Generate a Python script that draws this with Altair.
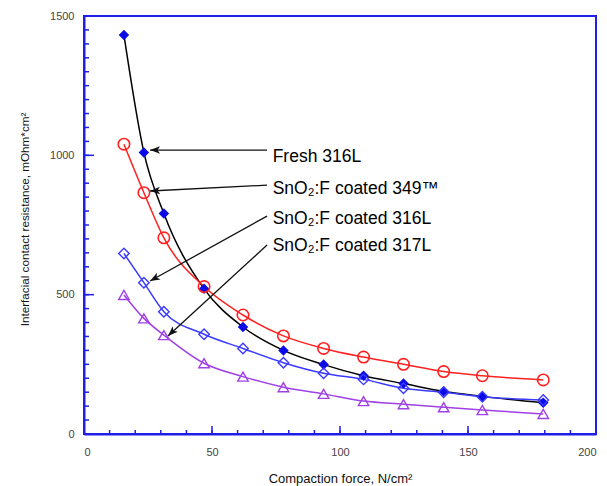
import altair as alt
import pandas as pd

# ---------------- data ----------------
force = [15.6, 23.4, 31.2, 46.9, 62.1, 77.9, 93.6, 109.2, 124.8, 140.5, 155.6, 179.4]
fresh_316L = [1432, 1010, 791, 521, 384, 300, 249, 209, 181, 153, 135, 112]
coated_349 = [1040, 866, 704, 529, 427, 352, 307, 276, 250, 224, 209, 194]
coated_316L = [648, 543, 439, 358, 307, 256, 218, 196, 164, 150, 134, 122]
coated_317L = [499, 415, 355, 254, 206, 168, 144, 118, 107, 96, 86, 72]

series_names = ["Fresh 316L", "SnO\u2082:F coated 349\u2122",
                "SnO\u2082:F coated 316L", "SnO\u2082:F coated 317L"]
series_values = [fresh_316L, coated_349, coated_316L, coated_317L]

x_major = [0, 50, 100, 150, 200]
x_minor = list(range(0, 201, 10))
y_major = [0, 500, 1000, 1500]
y_minor = list(range(0, 1501, 50))

# annotation labels and arrows (data units)
label_x = [73.7, 73.7, 73.7, 73.7]
label_y = [976, 861, 753, 657]
arrow_x0 = [71.5, 71.5, 71.5, 71.5]
arrow_y0 = [1019, 893, 782, 678]
arrow_x1 = [25.8, 25.8, 25.8, 32.8]
arrow_y1 = [1019, 872, 549, 352]
arrow_angle = [0, 357, 331, 317]

# ---------------- tables ----------------
rows = []
for name, vals in zip(series_names, series_values):
    for f, v in zip(force, vals):
        rows.append({"force": f, "value": v, "series": name})
df = pd.DataFrame(rows)

ann = pd.DataFrame({
    "label": series_names,
    "lx": label_x, "ly": label_y,
    "x0": arrow_x0, "y0": arrow_y0,
    "x1": arrow_x1, "y1": arrow_y1,
    "angle": arrow_angle,
})

W, H = 512, 418
BLUE = "#1f1fe8"
FONT = "Liberation Sans"
line_colors = ["#000000", "#ff2020", "#3a3aff", "#a040e6"]

xscale = alt.Scale(domain=[0, 200], nice=False, zero=False)
yscale = alt.Scale(domain=[0, 1500], nice=False, zero=False)

x_main = alt.X("force:Q", scale=xscale, axis=alt.Axis(
    values=x_major, ticks=False, grid=False, domainColor=BLUE, domainWidth=2,
    format="d",
    labelFont=FONT, labelFontSize=11, labelColor="#444", labelPadding=12,
    title="Compaction force, N/cm\u00b2", titleFont=FONT, titleFontSize=13,
    titleFontWeight="normal", titleColor="#111", titlePadding=15))
y_main = alt.Y("value:Q", scale=yscale, axis=alt.Axis(
    values=y_major, ticks=False, grid=False, domainColor=BLUE, domainWidth=2,
    format="d",
    labelFont=FONT, labelFontSize=11, labelColor="#444", labelPadding=10,
    title="Interfacial contact resistance, mOhm*cm\u00b2", titleFont=FONT,
    titleFontSize=11.7, titleFontWeight="normal", titleColor="#111",
    titlePadding=19, titleY=203))

lines = alt.Chart(df).mark_line(interpolate="monotone", strokeWidth=1.5).encode(
    x=x_main, y=y_main,
    color=alt.Color("series:N", scale=alt.Scale(domain=series_names, range=line_colors), legend=None),
    detail="series:N",
)

def X(field):
    return alt.X(field, scale=xscale, axis=None)

def Y(field):
    return alt.Y(field, scale=yscale, axis=None)

def pts(name, **kw):
    return alt.Chart(df).transform_filter(alt.datum.series == name).mark_point(**kw).encode(
        x=X("force:Q"), y=Y("value:Q"))

p_fresh = pts(series_names[0], shape="diamond", filled=True, color="#0a0ae6", size=110, opacity=1)
p_349 = pts(series_names[1], shape="circle", filled=False, color="#ff2020", size=130, strokeWidth=1.6, opacity=1)
p_316 = pts(series_names[2], shape="diamond", filled=False, color="#3a3aff", size=110, strokeWidth=1.4, opacity=1)
p_317 = pts(series_names[3], shape="triangle-up", filled=False, color="#a040e6", size=110, strokeWidth=1.4, opacity=1)

arrows = alt.Chart(ann).mark_rule(color="#111", strokeWidth=1.3).encode(
    x=X("x0:Q"), y=Y("y0:Q"), x2="x1:Q", y2="y1:Q")

heads = alt.Chart(ann).mark_point(
    shape="M0,0 L1,-0.38 L0.75,0 L1,0.38 Z", filled=True, color="#111", size=400, opacity=1
).encode(
    x=X("x1:Q"), y=Y("y1:Q"), angle=alt.Angle("angle:Q", scale=None))

labels = alt.Chart(ann).mark_text(
    align="left", baseline="alphabetic", font=FONT, fontSize=17.5, color="#000"
).encode(
    x=X("lx:Q"), y=Y("ly:Q"), text="label:N")

# inward axis ticks (tick values through the scales)
def yticks(vals, length):
    return alt.Chart(pd.DataFrame({"v": vals})).mark_rule(color=BLUE, strokeWidth=1.5).encode(
        y=Y("v:Q"), x=alt.value(0), x2=alt.value(length))

def xticks(vals, length):
    return alt.Chart(pd.DataFrame({"v": vals})).mark_rule(color=BLUE, strokeWidth=1.5).encode(
        x=X("v:Q"), y=alt.value(H), y2=alt.value(H - length))

ticks = [yticks(y_minor, 5), yticks(y_major, 10), xticks(x_minor, 4), xticks(x_major, 8)]

chart = alt.layer(
    lines, *ticks, p_fresh, p_349, p_316, p_317, arrows, heads, labels
).resolve_axis(
    x="independent", y="independent"
).properties(
    width=W, height=H,
    autosize=alt.AutoSizeParams(type="none"),
    padding={"left": 84, "top": 16, "right": 11, "bottom": 52},
    background="white",
).configure_view(stroke=BLUE, strokeWidth=2)

chart.save("out.html", embed_options={"renderer": "svg", "actions": False})
